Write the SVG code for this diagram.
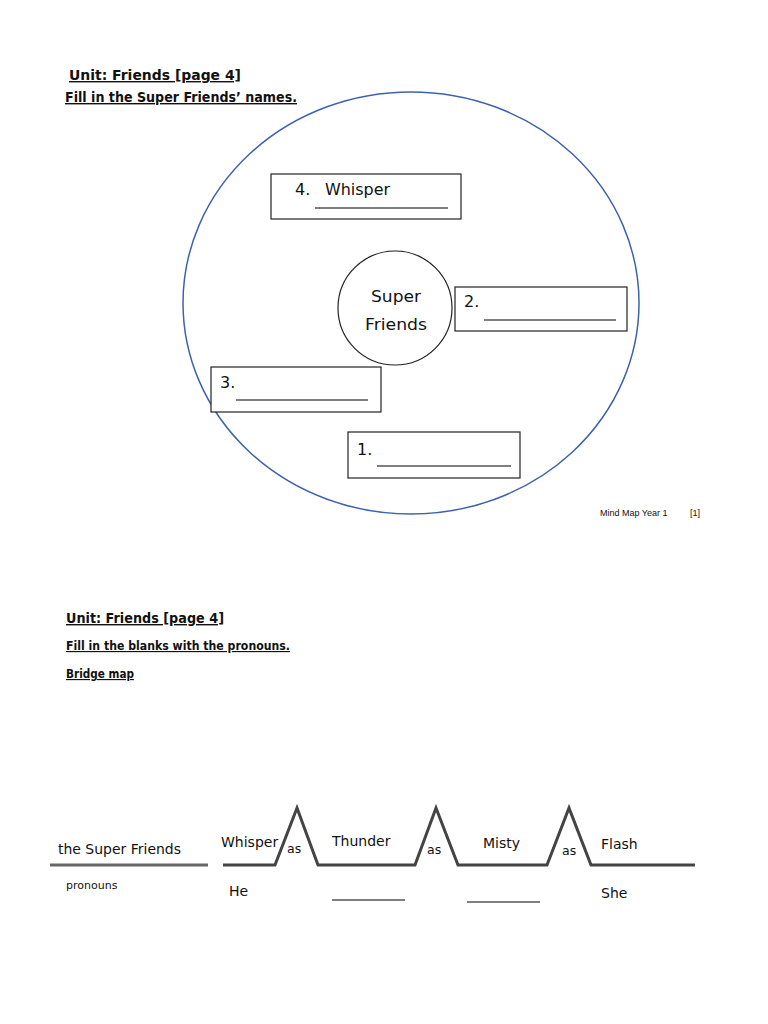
<svg xmlns="http://www.w3.org/2000/svg" width="768" height="1024" viewBox="0 0 768 1024">
<style>
text{font-family:"DejaVu Sans","Noto Sans",sans-serif;fill:#111}
.h{font-weight:bold;font-size:14px;text-decoration:underline}
.h2{font-weight:bold;font-size:11.5px;text-decoration:underline}
.lbl{font-size:16px}
.box{fill:#fff;stroke:#222;stroke-width:1.2}
.blank{stroke:#555;stroke-width:1.3}
.bridge{fill:none;stroke:#444;stroke-width:3;stroke-linejoin:miter}
.as{font-size:12.5px}
.bt{font-size:14px}
</style>
<rect width="768" height="1024" fill="#fff"/>
<g id="headers1">
<text class="h" x="69" y="80" textLength="172" lengthAdjust="spacingAndGlyphs">Unit: Friends [page 4]</text>
<text class="h" x="65" y="102" textLength="232" lengthAdjust="spacingAndGlyphs">Fill in the Super Friends’ names.</text>
</g>
<g id="outer-circle"><ellipse cx="411" cy="303" rx="228" ry="211" fill="none" stroke="#3d62ad" stroke-width="1.5"/></g>
<g id="center">
<circle cx="395" cy="308" r="57" fill="#fff" stroke="#222" stroke-width="1.2"/>
<text class="lbl" x="396" y="302" text-anchor="middle" textLength="50" lengthAdjust="spacingAndGlyphs">Super</text>
<text class="lbl" x="396" y="330" text-anchor="middle" textLength="62" lengthAdjust="spacingAndGlyphs">Friends</text>
</g>
<g id="node4">
<rect class="box" x="271" y="174" width="190" height="45"/>
<text class="lbl" x="295" y="195">4.</text>
<text class="lbl" x="325" y="195" textLength="65" lengthAdjust="spacingAndGlyphs">Whisper</text>
<line class="blank" x1="315" y1="208" x2="448" y2="208"/>
</g>
<g id="node2">
<rect class="box" x="455" y="287" width="172" height="44"/>
<text class="lbl" x="464" y="307">2.</text>
<line class="blank" x1="484" y1="320" x2="616" y2="320"/>
</g>
<g id="node3">
<rect class="box" x="211" y="367" width="170" height="45"/>
<text class="lbl" x="220" y="388">3.</text>
<line class="blank" x1="236" y1="400" x2="368" y2="400"/>
</g>
<g id="node1">
<rect class="box" x="348" y="432" width="172" height="46"/>
<text class="lbl" x="357" y="455">1.</text>
<line class="blank" x1="377" y1="466" x2="511" y2="466"/>
</g>
<g id="footer">
<text x="600" y="516" style="font-family:'Liberation Sans',sans-serif;font-size:9px">Mind Map Year 1</text>
<text x="690" y="516" style="font-family:'Liberation Sans',sans-serif;font-size:9px">[1]</text>
</g>
<g id="headers2">
<text class="h" x="66" y="623" textLength="158" lengthAdjust="spacingAndGlyphs">Unit: Friends [page 4]</text>
<text class="h2" x="66" y="650" textLength="224" lengthAdjust="spacingAndGlyphs">Fill in the blanks with the pronouns.</text>
<text class="h2" x="66" y="678" textLength="68" lengthAdjust="spacingAndGlyphs">Bridge map</text>
</g>
<g id="connectors">
<line x1="50" y1="865" x2="208" y2="865" stroke="#666" stroke-width="3"/>
<polyline class="bridge" points="223,865 275,865 297,808 318,865 415,865 436,808 458,865 547,865 569,808 591,865 695,865"/>
</g>
<g id="bridge-labels">
<text class="bt" x="58" y="854" textLength="123" lengthAdjust="spacingAndGlyphs">the Super Friends</text>
<text x="66" y="889" style="font-size:11px">pronouns</text>
<text class="bt" x="221" y="847">Whisper</text>
<text class="as" x="287" y="853">as</text>
<text class="bt" x="332" y="846">Thunder</text>
<text class="as" x="427" y="854">as</text>
<text class="bt" x="483" y="848">Misty</text>
<text class="as" x="562" y="855">as</text>
<text class="bt" x="601" y="849">Flash</text>
<text class="bt" x="229" y="896">He</text>
<text class="bt" x="601" y="898">She</text>
<line class="blank" x1="332" y1="900" x2="405" y2="900"/>
<line class="blank" x1="467" y1="902" x2="540" y2="902"/>
</g>
</svg>
